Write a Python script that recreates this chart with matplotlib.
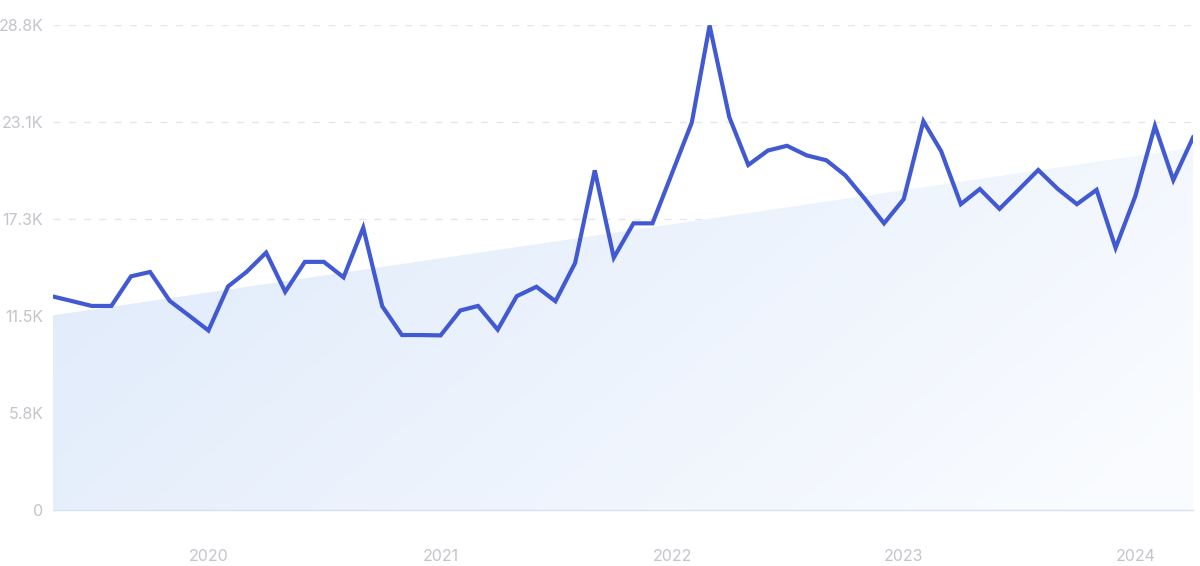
"""
Monthly search-volume line with a shaded linear trend band (May 2019 - Apr 2024).
"""

import matplotlib

matplotlib.use("Agg")
import matplotlib.dates as mdates
import matplotlib.pyplot as plt
import numpy as np
import pandas as pd
from matplotlib.patches import Polygon

MONTHS = pd.date_range("2019-05-01", periods=60, freq="MS")
VOLUME = [
    12690, 12410, 12130, 12130, 13890, 14150, 12430, 11570, 10670, 13290,
    14150, 15300, 12970, 14750, 14750, 13830, 16780, 12110, 10400, 10400,
    10380, 11860, 12130, 10720, 12710, 13270, 12410, 14680, 20190, 15000,
    17040, 17040, 20040, 23040, 28800, 23360, 20510, 21370, 21650, 21080,
    20790, 19890, 18480, 17040, 18480, 23110, 21330, 18180, 19080, 17900,
    19030, 20210, 19080, 18180, 19030, 15580, 18650, 22830, 19610, 22140,
]
TREND = [11570, 21540]  # trend value at first and last month
Y_MAX = 28830
Y_TICK_LABELS = ["0", "5.8K", "11.5K", "17.3K", "23.1K", "28.8K"]
YEARS = [2020, 2021, 2022, 2023, 2024]

plt.rcParams["font.family"] = ["Inter", "DejaVu Sans"]

fig = plt.figure(figsize=(12, 5.66), dpi=100)
ax = fig.add_axes([53 / 1200, 56 / 566, 1140 / 1200, 485 / 566])

x = mdates.date2num(MONTHS)
x0, x1 = x[0], x[-1]

# gradient trend band
grad_x, grad_y = np.meshgrid(np.linspace(0, 1, 300), np.linspace(1, 0, 200))
t = np.clip(0.7 * grad_x + 0.35 * (1 - grad_y), 0, 1)
c_start = np.array([0.86, 0.91, 0.98])
c_end = np.array([0.98, 0.987, 1.0])
img = c_start[None, None, :] * (1 - t[..., None]) + c_end[None, None, :] * t[..., None]
im = ax.imshow(img, extent=[x0, x1, 0, Y_MAX], aspect="auto", origin="upper", zorder=1)
band = Polygon([[x0, 0], [x0, TREND[0]], [x1, TREND[1]], [x1, 0]], closed=True,
               facecolor="none", edgecolor="none")
ax.add_patch(band)
im.set_clip_path(band)

ax.plot(x, VOLUME, color="#4159d3", linewidth=3.0, solid_joinstyle="miter", zorder=3)

ax.set_xlim(x0, x1)
ax.set_ylim(0, Y_MAX)
ax.set_yticks(np.linspace(0, Y_MAX, 6))
ax.set_yticklabels(Y_TICK_LABELS)
ax.set_xticks(mdates.date2num([pd.Timestamp(f"{y}-01-01") for y in YEARS]))
ax.set_xticklabels([str(y) for y in YEARS])

for v in np.linspace(0, Y_MAX, 6)[1:]:
    ax.axhline(v, color="#e2e6ef", linewidth=1.0, dashes=(5, 6), zorder=0.5)

for s in ["top", "right", "left"]:
    ax.spines[s].set_visible(False)
ax.spines["bottom"].set_color("#d8e0f2")
ax.spines["bottom"].set_linewidth(1.0)
ax.tick_params(axis="both", length=0, labelsize=11.5, colors="#c4c5cb")
ax.tick_params(axis="y", pad=7)
ax.tick_params(axis="x", pad=28)

fig.savefig("out.png", dpi=100)
plt.close(fig)
